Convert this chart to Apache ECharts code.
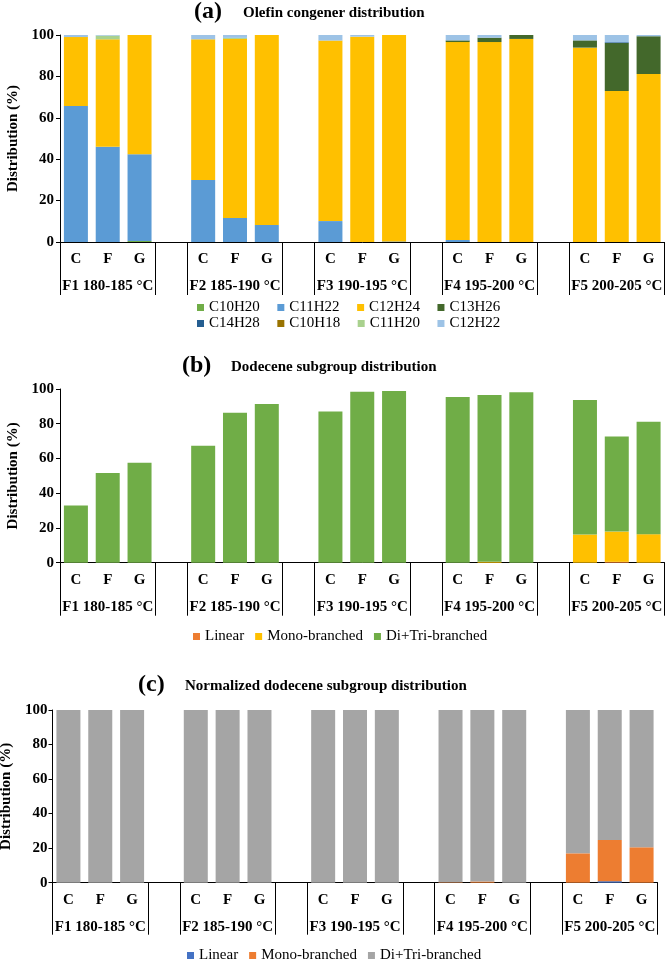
<!DOCTYPE html>
<html><head><meta charset="utf-8">
<script src="https://cdn.jsdelivr.net/npm/echarts@6/dist/echarts.min.js"></script>
<style>html,body{margin:0;padding:0;background:#fff}#chart{width:666px;height:962px}</style>
</head><body><div id="chart"></div>
<script>
// ---------- categories ----------
const samples = ['C', 'F', 'G'];
const fractions = ['F1 180-185 °C', 'F2 185-190 °C', 'F3 190-195 °C', 'F4 195-200 °C', 'F5 200-205 °C'];
const yTicks = [0, 20, 40, 60, 80, 100];

// ---------- panel (a): olefin congener distribution (%), order F1C F1F F1G ... F5G ----------
const aNames = ['C10H20', 'C11H22', 'C12H24', 'C13H26', 'C14H28', 'C10H18', 'C11H20', 'C12H22'];
const aC10H20 = [0, 0, 0.5, 0, 0, 0, 0, 0, 0, 0, 0, 0, 0, 0, 0];
const aC11H22 = [65.7, 46.0, 41.9, 30.0, 11.6, 8.2, 10.1, 0, 0.3, 1.0, 0, 0, 0, 0, 0];
const aC12H24 = [33.3, 51.9, 57.6, 67.9, 86.5, 91.8, 87.2, 99.2, 99.7, 95.6, 96.6, 98.1, 93.9, 72.9, 81.2];
const aC13H26 = [0, 0, 0, 0, 0, 0, 0, 0, 0, 0.8, 2.1, 1.9, 3.5, 23.2, 18.2];
const aC14H28 = [0, 0, 0, 0, 0, 0, 0, 0, 0, 0, 0, 0, 0, 0.4, 0];
const aC10H18 = [0, 0, 0, 0, 0, 0, 0, 0, 0, 0, 0, 0, 0, 0, 0];
const aC11H20 = [0, 1.8, 0, 0, 0.5, 0, 0, 0, 0, 0, 0, 0, 0, 0, 0];
const aC12H22 = [1.0, 0.3, 0, 2.1, 1.4, 0, 2.7, 0.8, 0, 2.6, 1.3, 0, 2.6, 3.5, 0.6];

// ---------- panel (b): dodecene subgroup distribution (%) ----------
const subNames = ['Linear', 'Mono-branched', 'Di+Tri-branched'];
const bLinear = [0, 0, 0, 0, 0, 0, 0, 0, 0, 0, 0, 0, 0, 0.5, 0];
const bMono = [0, 0, 0, 0, 0, 0, 0, 0, 0, 0, 0.5, 0, 16.2, 17.4, 16.4];
const bDiTri = [33.0, 51.6, 57.6, 67.4, 86.3, 91.3, 87.1, 98.4, 98.8, 95.4, 96.0, 98.1, 77.4, 54.7, 64.7];

// ---------- panel (c): normalized dodecene subgroup distribution (%) ----------
const cLinear = [0, 0, 0, 0, 0, 0, 0, 0, 0, 0, 0, 0, 0, 0.9, 0];
const cMono = [0, 0, 0, 0, 0, 0, 0, 0, 0, 0.3, 0.7, 0, 17.0, 23.8, 20.5];
const cDiTri = [100, 100, 100, 100, 100, 100, 100, 100, 100, 99.7, 99.3, 100, 83.0, 75.3, 79.5];

// ---------- styling ----------
const FONT = 'Liberation Serif';
const aColors = ['#70AD47', '#5B9BD5', '#FFC000', '#43682B', '#255E91', '#997300', '#A9D18E', '#9DC3E6'];
const bColors = ['#ED7D31', '#FFC000', '#70AD47'];
const cColors = ['#4472C4', '#ED7D31', '#A5A5A5'];

// category slots: C F G, blank, C F G, blank ...
const xCats = [];
const groupCats = [];
fractions.forEach((f, i) => {
  samples.forEach((s, j) => { xCats.push(s); groupCats.push(j === 1 ? f : ''); });
  if (i < fractions.length - 1) { xCats.push(''); groupCats.push(''); }
});
function expand(vals) {
  const out = [];
  let k = 0;
  fractions.forEach((f, i) => {
    samples.forEach(() => { out.push(vals[k++]); });
    if (i < fractions.length - 1) out.push('-');
  });
  return out;
}
const tickFn = (i) => i % 4 === 0 || i % 4 === 3;

const grids = [
  { left: 60, top: 35, width: 604.5, height: 207 },
  { left: 60, top: 389, width: 604.5, height: 173.7 },
  { left: 52.5, top: 710, width: 605, height: 172.7 }
].map(g => Object.assign({ containLabel: false, outerBoundsMode: 'none' }, g));

const xAxes = [];
const yAxes = [];
[0, 1, 2].forEach(g => {
  xAxes.push({
    type: 'category', gridIndex: g, data: xCats, position: 'bottom',
    axisLine: { show: true, onZero: false, lineStyle: { color: '#000', width: 1 } },
    axisTick: { show: false },
    axisLabel: { interval: 0, margin: 10, fontFamily: FONT, fontWeight: 'bold', fontSize: 15, color: '#000' },
    splitLine: { show: false }
  });
  xAxes.push({
    type: 'category', gridIndex: g, data: groupCats, position: 'bottom',
    axisLine: { show: false, onZero: false },
    axisTick: { show: true, interval: tickFn, length: g === 2 ? 52 : 53, lineStyle: { color: '#000', width: 1 } },
    axisLabel: { interval: 0, margin: 37, fontFamily: FONT, fontWeight: 'bold', fontSize: 15, color: '#000' },
    splitLine: { show: false }
  });
  yAxes.push({
    type: 'value', gridIndex: g, min: yTicks[0], max: yTicks[yTicks.length - 1], interval: yTicks[1] - yTicks[0],
    name: 'Distribution (%)', nameLocation: 'middle', nameGap: g === 2 ? 35 : 36,
    nameTextStyle: { fontFamily: FONT, fontWeight: 'bold', fontSize: 15, color: '#000' },
    axisLine: { show: true, lineStyle: { color: '#000', width: 1 } },
    axisTick: { show: true, length: 4, lineStyle: { color: '#000' } },
    axisLabel: { margin: g === 2 ? 5 : 6, fontFamily: FONT, fontWeight: 'bold', fontSize: 15, color: '#000' },
    splitLine: { show: false }
  });
});

function bar(name, vals, color, g, stack) {
  return {
    type: 'bar', name, data: expand(vals), stack, xAxisIndex: g * 2, yAxisIndex: g,
    barWidth: 24, itemStyle: { color }, emphasis: { disabled: true }
  };
}
const aData = [aC10H20, aC11H22, aC12H24, aC13H26, aC14H28, aC10H18, aC11H20, aC12H22];
const series = [];
aNames.forEach((n, i) => series.push(bar(n, aData[i], aColors[i], 0, 'a')));
[bLinear, bMono, bDiTri].forEach((d, i) => series.push(bar('b:' + subNames[i], d, bColors[i], 1, 'b')));
[cLinear, cMono, cDiTri].forEach((d, i) => series.push(bar('c:' + subNames[i], d, cColors[i], 2, 'c')));

function legend(names, left, top, gap) {
  return {
    data: names, left, top, orient: 'horizontal', itemWidth: 7, itemHeight: 7, itemGap: gap, padding: 0,
    icon: 'rect', selectedMode: false,
    formatter: (n) => n.replace(/^[bc]:/, ''),
    textStyle: { fontFamily: FONT, fontSize: 15, color: '#000' }
  };
}

function txt(x, y, text, size) {
  return {
    type: 'text', x, y, silent: true,
    style: { text, font: 'bold ' + size + 'px "' + FONT + '"', fill: '#000', verticalAlign: 'middle', textVerticalAlign: 'middle' }
  };
}

const option = {
  animation: false,
  backgroundColor: '#fff',
  grid: grids,
  xAxis: xAxes,
  yAxis: yAxes,
  legend: [
    legend(aNames.slice(0, 4), 197, 300, 17.5),
    legend(aNames.slice(4), 197, 316, 17.5),
    legend(subNames.map(n => 'b:' + n), 193, 629, 11),
    legend(subNames.map(n => 'c:' + n), 187, 948, 11)
  ],
  graphic: [
    txt(194, 12, '(a)', 24), txt(243, 13, 'Olefin congener distribution', 15),
    txt(182, 366, '(b)', 24), txt(231, 367, 'Dodecene subgroup distribution', 15),
    txt(138, 685, '(c)', 24), txt(185, 686, 'Normalized dodecene subgroup distribution', 15)
  ],
  series
};
const chart = echarts.init(document.getElementById('chart'), null, { renderer: 'canvas' });
chart.setOption(option);
</script>
</body></html>
